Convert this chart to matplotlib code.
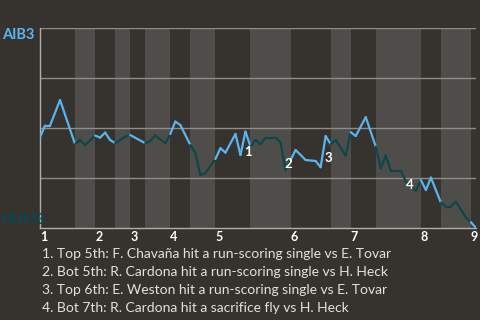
#!/usr/bin/env python3
"""
Win probability chart, AIB3 at HUM3.
"""

import matplotlib
matplotlib.use('Agg')
import matplotlib.pyplot as plt
from matplotlib.collections import LineCollection
import numpy as np

# play index and AIB3 win probability (%)
play = [0, 1, 2, 4, 7, 8, 9, 11, 12, 13, 14, 15, 17, 18, 21, 22, 23, 25, 26, 27,
        28, 30, 31, 32, 33, 35, 36, 37, 39, 40, 41, 42, 43, 44, 45, 47, 48, 49, 50, 51,
        53, 55, 56, 57, 58, 59, 61, 62, 63, 65, 67, 68, 69, 70, 72, 73, 75, 76, 77, 78,
        80, 81, 82, 83, 85, 86, 87]
aib3_wp = [45.4, 51.2, 51.2, 64.0, 41.9, 44.0, 41.5, 46.2, 45.2, 47.7, 44.0, 42.4, 45.7, 46.5, 42.4, 43.6, 46.2, 42.4, 47.0, 53.2,
           51.5, 41.5, 37.4, 26.5, 27.4, 34.5, 39.9, 37.7, 47.0, 36.5, 48.2, 40.7, 44.0, 41.9, 45.2, 45.2, 42.9, 29.0, 34.0, 39.0,
           34.0, 33.5, 30.4, 46.0, 41.9, 44.0, 36.2, 47.9, 46.0, 55.4, 40.7, 29.9, 36.2, 28.7, 28.7, 23.2, 18.5, 24.0, 19.0, 25.2,
           12.7, 10.7, 10.7, 13.2, 5.2, 2.9, 0.0]

# first play of each inning (top half) and of each bottom half
inning_start = [0, 11, 18, 26, 35, 50, 62, 76, 86]
inning_labels = ['1', '2', '3', '4', '5', '6', '7', '8', '9']
bottom_start = [7, 15, 21, 30, 42, 58, 67, 80]
last_play = 87

# key plays: label, position of the marker text
key_labels = ['1', '2', '3', '4']
key_x = [41.6, 49.6, 57.5, 73.7]
key_y = [38.0, 32.0, 35.0, 21.5]
key_text = [
    '1. Top 5th: F. Chavaña hit a run-scoring single vs E. Tovar',
    '2. Bot 5th: R. Cardona hit a run-scoring single vs H. Heck',
    '3. Top 6th: E. Weston hit a run-scoring single vs E. Tovar',
    '4. Bot 7th: R. Cardona hit a sacrifice fly vs H. Heck',
]

away_name, home_name = 'AIB3', 'HUM3'

bg = '#36332f'
band = '#4f4d4a'
away_color = '#5ab4f0'
home_color = '#0b474c'
text_color = '#e2e2e2'

plt.rcParams['font.family'] = ['Lato', 'DejaVu Sans']

fig = plt.figure(figsize=(4.8, 3.2), dpi=100, facecolor=bg)
ax = fig.add_axes([40 / 480, 1 - 228 / 320, 436 / 480, 200 / 320])
ax.set_facecolor(bg)

# shade the bottom halves
for b, t in zip(bottom_start, inning_start[1:] + [last_play]):
    ax.axvspan(b, t, color=band, lw=0, zorder=0)

for yv in [25, 50, 75, 100]:
    ax.axhline(yv, color='#8e8c88', lw=1.0, zorder=1)

# segments coloured by which team is batting
pts = np.column_stack([play, aib3_wp])
segs = np.stack([pts[:-1], pts[1:]], axis=1)
halves = sorted([(s, 'top') for s in inning_start] + [(s, 'bot') for s in bottom_start])
colors = []
for x0, x1 in zip(play[:-1], play[1:]):
    mid = (x0 + x1) / 2
    side = [h for s, h in halves if s <= mid][-1]
    colors.append(away_color if side == 'top' else home_color)
ax.add_collection(LineCollection(segs, colors=colors, linewidths=1.6, zorder=3,
                                 capstyle='round', joinstyle='round'))

for lab, x, y in zip(key_labels, key_x, key_y):
    ax.text(x, y, lab, color='white', fontsize=9.5, fontweight='bold',
            ha='center', va='center', zorder=4)

ax.set_xlim(0, last_play)
ax.set_ylim(0, 100)
for side in ['top', 'right']:
    ax.spines[side].set_visible(False)
for side in ['left', 'bottom']:
    ax.spines[side].set_color('#b0aeaa')
    ax.spines[side].set_linewidth(1.0)
ax.set_yticks([])
ax.set_xticks(inning_start)
ax.set_xticklabels(inning_labels, color='white', fontsize=9, fontweight='bold', ha='left')
ax.tick_params(axis='x', length=0, pad=2)

fig.text(2 / 480, 1 - 35 / 320, away_name, color=away_color, fontsize=10.5,
         fontweight='bold', va='center', ha='left')
fig.text(2 / 480, 1 - 220 / 320, home_name, color=home_color, fontsize=10.5,
         fontweight='bold', va='center', ha='left')

for i, line in enumerate(key_text):
    fig.text(42 / 480, 1 - (254 + 18 * i) / 320, line, color=text_color,
             fontsize=10, va='center', ha='left')

fig.savefig('out.png', dpi=100, facecolor=bg)
